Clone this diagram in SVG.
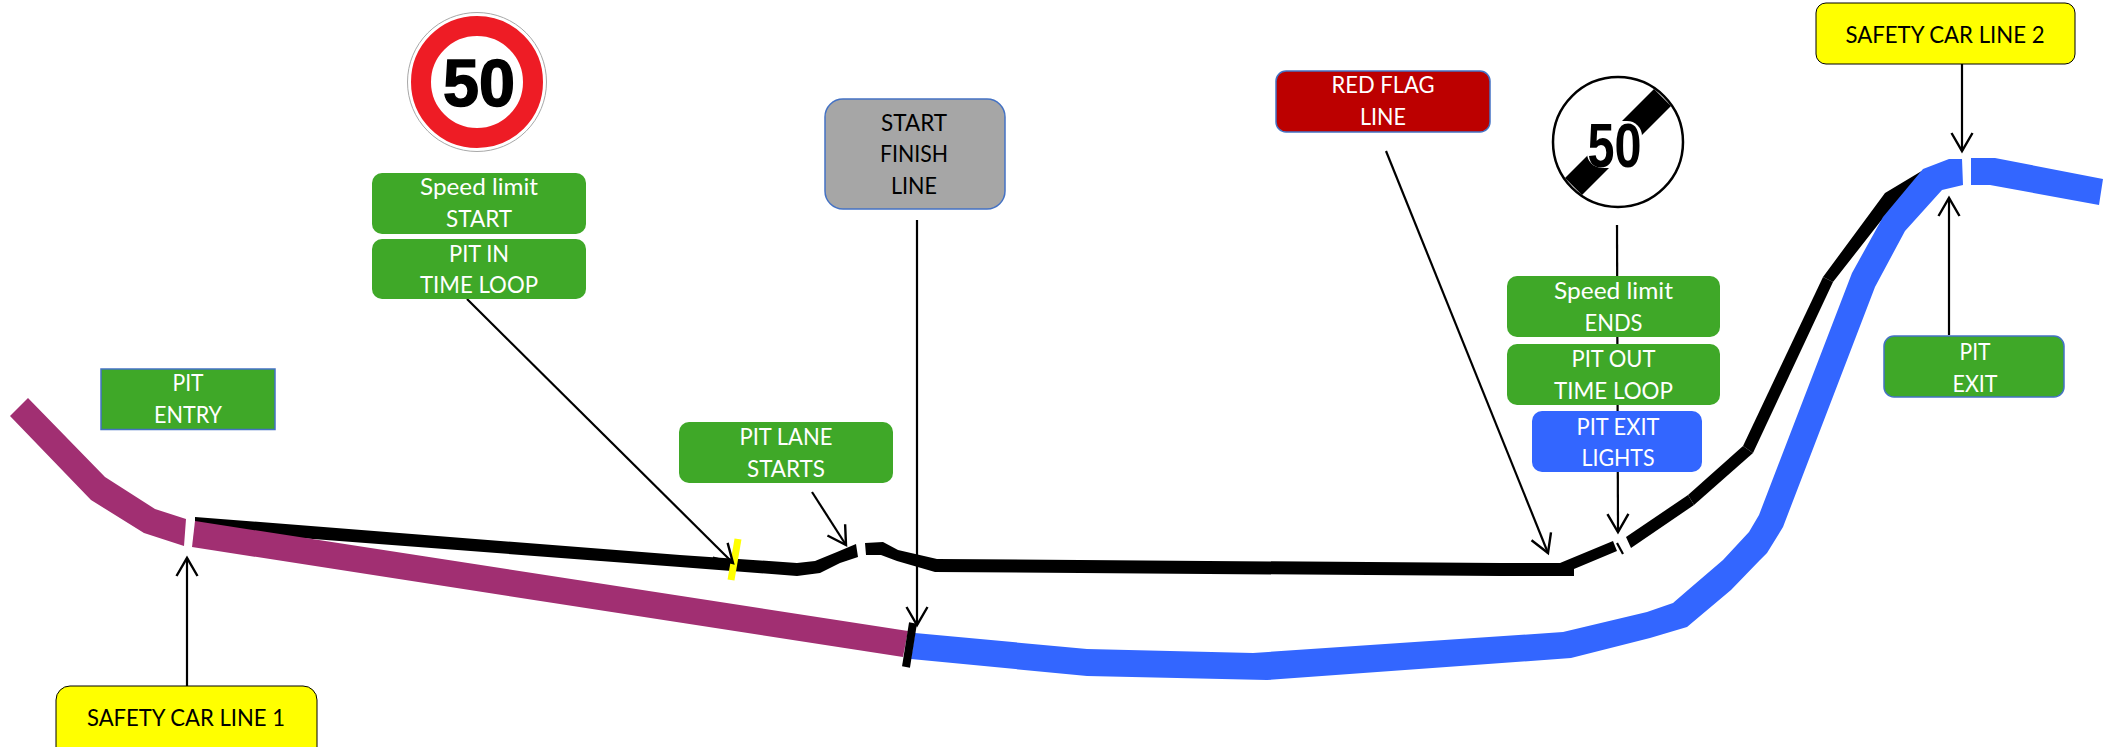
<svg xmlns="http://www.w3.org/2000/svg" width="2116" height="747" viewBox="0 0 2116 747">
<style>
.t{font-family:"Lato","Open Sans","Liberation Sans",sans-serif;font-size:24px;text-anchor:middle;fill:#fff}
.k{fill:#000}
.g{fill:#3FA828}
.e{stroke:#4472C4;stroke-width:1.5}
.a{fill:none;stroke:#000;stroke-width:2.2;marker-end:url(#ah)}
.b{fill:#000}.p{fill:#A12F72}.u{fill:#3366FF}
.n{font-family:"Liberation Sans",sans-serif;font-weight:700;text-anchor:middle}
</style>
<defs>
<marker id="ah" markerUnits="userSpaceOnUse" markerWidth="24" markerHeight="28" viewBox="-21 -14 24 28" refX="0" refY="0" orient="auto">
<path d="M-18 -10.500L0 0L-18 10.500" fill="none" stroke="#000" stroke-width="2.400"/>
</marker>
</defs>
<rect width="2116" height="747" fill="#fff"/>
<g id="track">
<polygon class="b" points="195,517 680,555 797,563 815,561 837,552 856,544 858,557 840,563 820,573 797,576 680,567 195,530"/>
<polygon class="b" points="865,543 883,542 898,550 937,559 1500,563 1560,563 1613,541 1617,551 1574,569 1574,576 1500,576 935,572 897,561 881,555 866,555"/>
<polygon class="b" points="1626,537 1688,495 1694,505 1631,548"/>
<polygon class="b" points="1688,495 1743,446 1753,453 1694,505"/>
<polygon class="b" points="1743,446 1823,277 1833,282 1753,453"/>
<polygon class="b" points="1823,277 1885,193 1925,169 1880,222 1833,282"/>
<line x1="1617" y1="543" x2="1623" y2="554" stroke="#000" stroke-width="2.200"/>
<polygon class="p" points="10,416 28,398 105,477 155,509 186,519 184,546 144,533 91,500"/>
<polygon class="p" points="195,521 908,631 903,657 192,547"/>
<polygon class="u" points="915,633 1087,649 1087,676 911,659"/>
<polygon class="u" points="1087,649 1253,653 1563,632 1647,612 1673,603 1688,590 1723,560 1749,532 1759,515 1852,273 1883,217 1923,169 1949,159 1962,159 1963,185 1942,190 1905,231 1875,287 1783,527 1767,553 1760,560 1731,590 1687,627 1650,638 1571,658 1267,680 1087,676"/>
<polygon class="u" points="1971,158 1995,158 2103,179 2099,205 1990,185 1971,185"/>
<line x1="738" y1="539" x2="731" y2="580" stroke="#FFFF00" stroke-width="7"/>
<line x1="913" y1="623" x2="906" y2="667" stroke="#000" stroke-width="8"/>
</g>
<g id="connectors">
<line class="a" x1="187" y1="687" x2="187" y2="558"/>
<line class="a" x1="467" y1="299" x2="733" y2="563"/>
<line class="a" x1="812" y1="492" x2="846" y2="545"/>
<line class="a" x1="917" y1="220" x2="917" y2="625"/>
<line class="a" x1="1386" y1="151" x2="1548" y2="553"/>
<line class="a" x1="1617" y1="225" x2="1618" y2="532"/>
<line class="a" x1="1949" y1="335" x2="1949" y2="198"/>
<line class="a" x1="1962" y1="64" x2="1962" y2="151"/>
</g>
<g id="sign-speed-limit-50">
<circle cx="477" cy="82" r="69.500" fill="#fff" stroke="#A8A8A8" stroke-width="1"/>
<circle cx="477" cy="82" r="56" fill="#fff" stroke="#EE1C25" stroke-width="20"/>
<text class="n" x="479" y="106" font-size="67" textLength="72" lengthAdjust="spacingAndGlyphs" stroke="#000" stroke-width="1.500">50</text>
</g>
<g id="speed-limit-start">
<rect class="g" x="372" y="173" width="214" height="61" rx="10"/>
<text class="t" x="479" y="195" textLength="118" lengthAdjust="spacingAndGlyphs">Speed limit</text>
<text class="t" x="479" y="227" textLength="66" lengthAdjust="spacingAndGlyphs">START</text>
</g>
<g id="pit-in-time-loop">
<rect class="g" x="372" y="239" width="214" height="60" rx="10"/>
<text class="t" x="479" y="262" textLength="60" lengthAdjust="spacingAndGlyphs">PIT IN</text>
<text class="t" x="479" y="293" textLength="118" lengthAdjust="spacingAndGlyphs">TIME LOOP</text>
</g>
<g id="pit-entry">
<rect class="g e" x="101" y="369" width="174" height="60.500"/>
<text class="t" x="188" y="391" textLength="31" lengthAdjust="spacingAndGlyphs">PIT</text>
<text class="t" x="188" y="423" textLength="68" lengthAdjust="spacingAndGlyphs">ENTRY</text>
</g>
<g id="pit-lane-starts">
<rect class="g" x="679" y="422" width="214" height="61" rx="10"/>
<text class="t" x="786" y="445" textLength="93" lengthAdjust="spacingAndGlyphs">PIT LANE</text>
<text class="t" x="786" y="477" textLength="78" lengthAdjust="spacingAndGlyphs">STARTS</text>
</g>
<g id="start-finish-line">
<rect class="e" x="825" y="99" width="180" height="110" rx="18" fill="#A6A6A6"/>
<text class="t k" x="914" y="130.500" textLength="66" lengthAdjust="spacingAndGlyphs">START</text>
<text class="t k" x="914" y="162" textLength="68" lengthAdjust="spacingAndGlyphs">FINISH</text>
<text class="t k" x="914" y="194" textLength="46" lengthAdjust="spacingAndGlyphs">LINE</text>
</g>
<g id="safety-car-line-1">
<rect x="56" y="686" width="261" height="80" rx="14" fill="#FFFF00" stroke="#000" stroke-width="1"/>
<text class="t k" x="186" y="726" textLength="198" lengthAdjust="spacingAndGlyphs">SAFETY CAR LINE 1</text>
</g>
<g id="red-flag-line">
<rect class="e" x="1276" y="71" width="214" height="61" rx="10" fill="#BC0000"/>
<text class="t" x="1383" y="93" textLength="103" lengthAdjust="spacingAndGlyphs">RED FLAG</text>
<text class="t" x="1383" y="125" textLength="46" lengthAdjust="spacingAndGlyphs">LINE</text>
</g>
<g id="sign-end-speed-limit-50">
<circle cx="1618" cy="142" r="65" fill="#fff" stroke="#000" stroke-width="2.500"/>
<polygon class="b" points="1565,178 1654,89 1671,106 1582,195"/>
<rect x="1587" y="121" width="55" height="47" rx="15" fill="#fff"/>
<text class="n" x="1614.500" y="167" font-size="63" textLength="54" lengthAdjust="spacingAndGlyphs" fill="#000">50</text>
</g>
<g id="speed-limit-ends">
<rect class="g" x="1507" y="276" width="213" height="61" rx="10"/>
<text class="t" x="1613.500" y="299" textLength="119" lengthAdjust="spacingAndGlyphs">Speed limit</text>
<text class="t" x="1613.500" y="330.500" textLength="58" lengthAdjust="spacingAndGlyphs">ENDS</text>
</g>
<g id="pit-out-time-loop">
<rect class="g" x="1507" y="344" width="213" height="61" rx="10"/>
<text class="t" x="1613.500" y="367" textLength="84" lengthAdjust="spacingAndGlyphs">PIT OUT</text>
<text class="t" x="1613.500" y="399" textLength="119" lengthAdjust="spacingAndGlyphs">TIME LOOP</text>
</g>
<g id="pit-exit-lights">
<rect class="u" x="1532" y="411" width="170" height="61" rx="10"/>
<text class="t" x="1618" y="435" textLength="83" lengthAdjust="spacingAndGlyphs">PIT EXIT</text>
<text class="t" x="1618" y="466" textLength="73" lengthAdjust="spacingAndGlyphs">LIGHTS</text>
</g>
<g id="pit-exit">
<rect class="g e" x="1884" y="336" width="180" height="61" rx="10"/>
<text class="t" x="1975" y="359.500" textLength="31" lengthAdjust="spacingAndGlyphs">PIT</text>
<text class="t" x="1975" y="391.500" textLength="45" lengthAdjust="spacingAndGlyphs">EXIT</text>
</g>
<g id="safety-car-line-2">
<rect x="1816" y="3" width="259" height="61" rx="10" fill="#FFFF00" stroke="#000" stroke-width="1"/>
<text class="t k" x="1945" y="43" textLength="199" lengthAdjust="spacingAndGlyphs">SAFETY CAR LINE 2</text>
</g>
</svg>
